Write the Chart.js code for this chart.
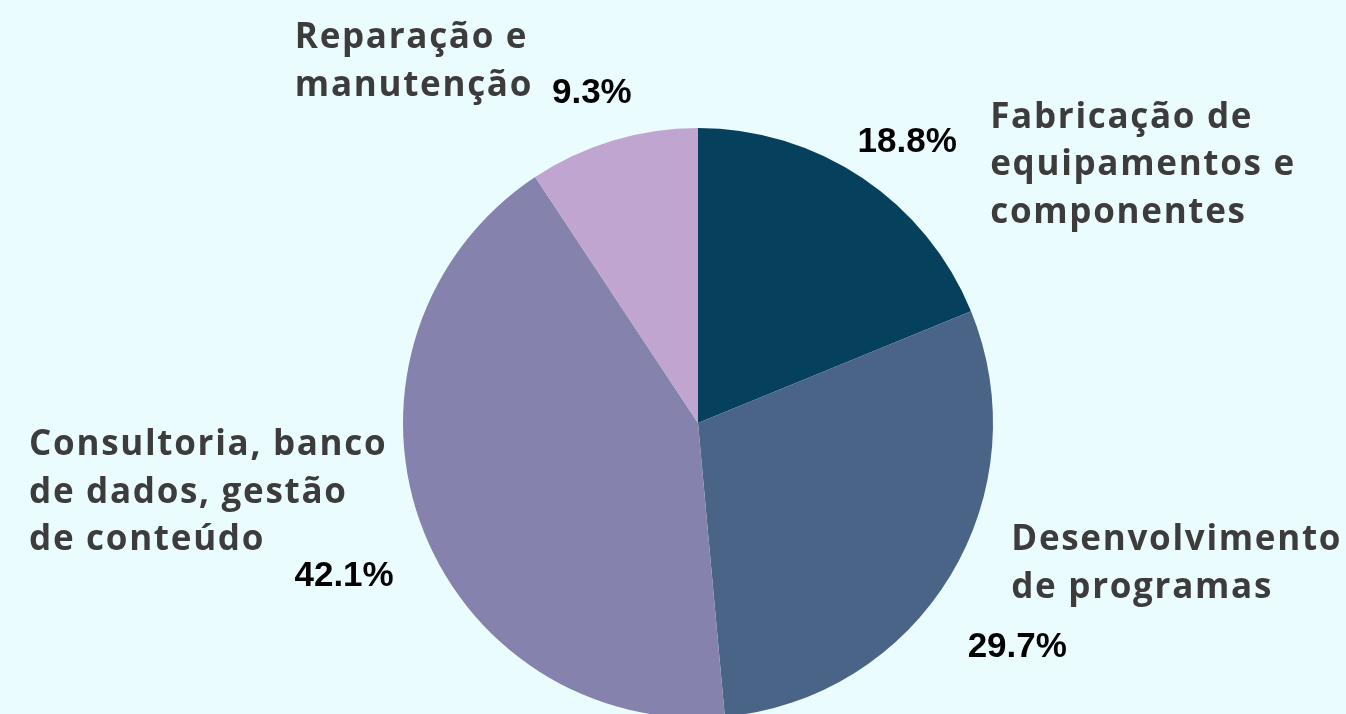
<!DOCTYPE html>
<html>
<head>
<meta charset="utf-8">
<script src="https://cdn.jsdelivr.net/npm/chart.js@4/dist/chart.umd.min.js"></script>
<style>
  html, body { margin: 0; padding: 0; background: #ebfcfe; overflow: hidden; }
  #wrap { position: relative; width: 1346px; height: 800px; }
</style>
</head>
<body>
<div id="wrap"><canvas id="c"></canvas></div>
<script>
const categories = [
  ["Fabricação de", "equipamentos e", "componentes"],
  ["Desenvolvimento", "de programas"],
  ["Consultoria, banco", "de dados, gestão", "de conteúdo"],
  ["Reparação e", "manutenção"]
];
const shares = [18.8, 29.7, 42.1, 9.3];
const sliceColors = ["#05405c", "#4a6488", "#8583ad", "#bfa5d0"];

// label placement: radial factor and angle nudge (deg) for the percentage,
// category text offset relative to the percentage label
const pctRadial = [1.193, 1.319, 1.305, 1.18];
const pctNudge = [2.6, 3.6, -3.8, -1.0];
const catOffset = [[83, -22], [-6, -105], [-315, -129], [-297, -53]];

const labelPlugin = {
  id: 'labelPlugin',
  afterDatasetsDraw(chart) {
    const ctx = chart.ctx;
    const meta = chart.getDatasetMeta(0);
    meta.data.forEach((arc, i) => {
      const p = arc.getProps(['x', 'y', 'startAngle', 'endAngle', 'outerRadius'], true);
      const mid = (p.startAngle + p.endAngle) / 2 + pctNudge[i] * Math.PI / 180;
      const r = p.outerRadius * pctRadial[i];
      const px = p.x + Math.cos(mid) * r;
      const py = p.y + Math.sin(mid) * r;
      ctx.save();
      ctx.fillStyle = '#000000';
      ctx.font = 'bold 35px "Liberation Sans", Arial, sans-serif';
      ctx.textAlign = 'center';
      ctx.textBaseline = 'middle';
      ctx.fillText(shares[i].toFixed(1) + '%', px, py + 2);
      ctx.fillStyle = '#3c3c3c';
      ctx.font = 'bold 35px "Open Sans", Lato, sans-serif';
      ctx.letterSpacing = '1.7px';
      ctx.textAlign = 'left';
      const lx = px + catOffset[i][0];
      let ly = py + catOffset[i][1];
      categories[i].forEach(line => {
        ctx.fillText(line, lx, ly);
        ly += 47.5;
      });
      ctx.restore();
    });
  }
};

new Chart(document.getElementById('c'), {
  type: 'pie',
  data: {
    labels: categories.map(c => c.join(' ')),
    datasets: [{
      data: shares,
      backgroundColor: sliceColors,
      borderWidth: 0
    }]
  },
  options: {
    responsive: true,
    maintainAspectRatio: false,
    animation: false,
    layout: { padding: { top: 128, bottom: 82, left: 50, right: 0 } },
    plugins: {
      legend: { display: false },
      tooltip: { enabled: false }
    }
  },
  plugins: [labelPlugin]
});
</script>
</body>
</html>
